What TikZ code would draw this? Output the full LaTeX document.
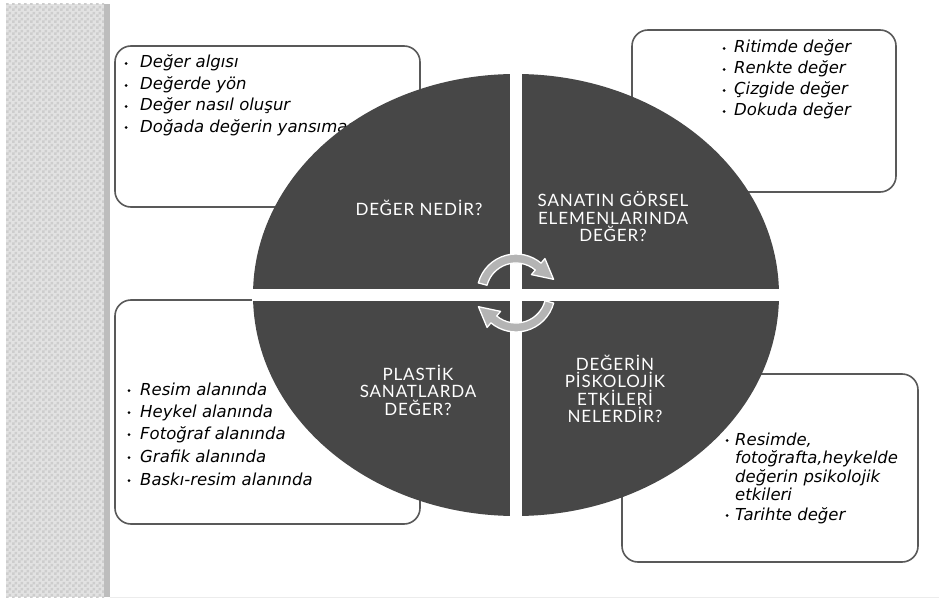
\documentclass[tikz,border=0pt]{standalone}
\usepackage{fontspec}
\setmainfont{DejaVu Sans}
\newfontfamily\quadfont[LetterSpace=5]{Lato}
\newfontfamily\listfont{DejaVu Sans}
\usetikzlibrary{patterns}
\pgfdeclarepatternformonly{smallcheck}{\pgfpointorigin}{\pgfqpoint{6pt}{6pt}}{\pgfqpoint{6pt}{6pt}}{%
  \pgfpathrectangle{\pgfpointorigin}{\pgfqpoint{3pt}{3pt}}%
  \pgfpathrectangle{\pgfqpoint{3pt}{3pt}}{\pgfqpoint{3pt}{3pt}}%
  \pgfusepath{fill}}
\definecolor{quadgray}{HTML}{474747}
\definecolor{boxline}{HTML}{595959}
\definecolor{arrowgray}{HTML}{B4B4B4}
\definecolor{stripbase}{HTML}{E2E2E2}
\definecolor{stripsq}{HTML}{CDCDCD}
\definecolor{stripedge}{HTML}{BDBDBD}
\definecolor{faintline}{HTML}{ECECEC}
\begin{document}
\begin{tikzpicture}[x=1pt,y=-1pt,
  listbox/.style={draw=boxline, line width=1.6pt, rounded corners=16pt, fill=white},
  listtext/.style={anchor=base west, inner sep=0pt, text=black,
    font=\listfont\itshape\fontsize{16.5}{19}\selectfont},
  quadtext/.style={align=center, text=white, inner sep=0pt,
    font=\quadfont\fontsize{17}{17.5}\selectfont},
  arrowshape/.style={fill=arrowgray, draw=white, line width=1.3pt, line join=round},
  bulletdot/.style={fill=black}]

\useasboundingbox (0,0) rectangle (939,599);
\fill[white] (0,0) rectangle (939,599);

% left strip
\fill[stripbase] (6,4) rectangle (104,597);
\fill[pattern=smallcheck, pattern color=stripsq] (6,4) rectangle (104,597);
\fill[stripedge] (104,4) rectangle (110,597);
\draw[faintline, line width=0.8pt] (110,597) -- (939,597);

% boxes
\draw[listbox] (115,46) rectangle (420,207);
\draw[listbox] (632,30) rectangle (896,192);
\draw[listbox] (115,300) rectangle (420,524);
\draw[listbox] (622,374) rectangle (918,562);

% top-left list
\foreach \yy in {68,90,111,132} \fill[bulletdot] (126,\yy-4.5) circle (1.5);
\node[listtext] (tl1) at (140,68) {Değer algısı};
\node[listtext] (tl2) at (140,90) {Değerde yön};
\node[listtext] (tl3) at (140,111) {Değer nasıl oluşur};
\node[listtext] (tl4) at (140,132) {Doğada değerin yansıması};

% top-right list
\foreach \yy in {53,74,95,116} \fill[bulletdot] (724,\yy-4.5) circle (1.5);
\node[listtext] (tr1) at (734,53) {Ritimde değer};
\node[listtext] (tr2) at (734,74) {Renkte değer};
\node[listtext] (tr3) at (734,95) {Çizgide değer};
\node[listtext] (tr4) at (734,116) {Dokuda değer};

% bottom-left list
\foreach \yy in {395,417,439,462,485} \fill[bulletdot] (129,\yy-4.5) circle (1.5);
\node[listtext] (bl1) at (140,395) {Resim alanında};
\node[listtext] (bl2) at (140,417) {Heykel alanında};
\node[listtext] (bl3) at (140,439) {Fotoğraf alanında};
\node[listtext] (bl4) at (140,462) {Grafik alanında};
\node[listtext] (bl5) at (140,485) {Baskı-resim alanında};

% bottom-right list
\foreach \yy in {445,520} \fill[bulletdot] (727,\yy-4.5) circle (1.5);
\node[listtext] (br1) at (735,445) {Resimde,};
\node[listtext] (br2) at (735,463) {fotoğrafta,heykelde};
\node[listtext] (br3) at (735,482) {değerin psikolojik};
\node[listtext] (br4) at (735,500) {etkileri};
\node[listtext] (br5) at (735,520) {Tarihte değer};

% central divided ellipse
\fill[quadgray] (516,295) ellipse [x radius=263, y radius=221];
\begin{scope}
  \clip (516,295) ellipse [x radius=264, y radius=222];
  \fill[white] (250,289) rectangle (782,301);
  \fill[white] (510,70) rectangle (522,520);
\end{scope}

% quadrant labels
\node[quadtext] (qtl) at (419,208) {DEĞER NEDİR?};
\node[quadtext] (qtr) at (613,217) {SANATIN GÖRSEL\\ELEMENLARINDA\\DEĞER?};
\node[quadtext] (qbl) at (418,390) {PLASTİK\\SANATLARDA\\DEĞER?};
\node[quadtext] (qbr) at (615,389) {DEĞERİN\\PİSKOLOJİK\\ETKİLERİ\\NELERDİR?};

% circular arrows
\begin{scope}[shift={(516,293)}]
  \filldraw[arrowshape] (-165:39) arc[start angle=-165, end angle=-50, radius=39]
    -- (-50:45) -- (-20:40) -- (-50:24) -- (-50:30)
    arc[start angle=-50, end angle=-165, radius=30] -- cycle;
  \begin{scope}[rotate=180]
  \filldraw[arrowshape] (-165:39) arc[start angle=-165, end angle=-50, radius=39]
    -- (-50:45) -- (-20:40) -- (-50:24) -- (-50:30)
    arc[start angle=-50, end angle=-165, radius=30] -- cycle;
  \end{scope}
\end{scope}
\end{tikzpicture}
\end{document}
